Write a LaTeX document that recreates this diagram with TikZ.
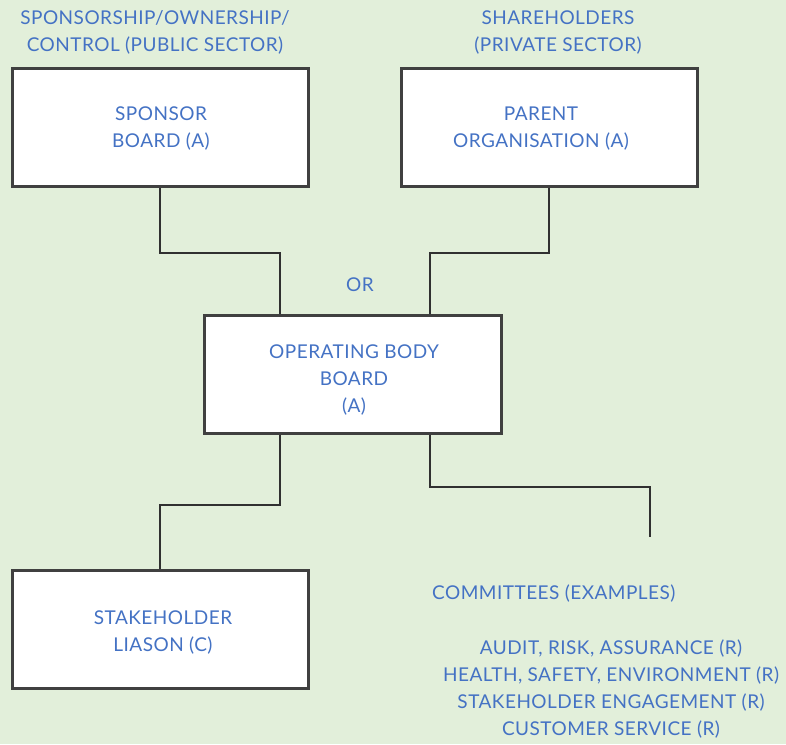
\documentclass[tikz,border=0pt]{standalone}
\usepackage{fontspec}
\setmainfont{Lato}[LetterSpace=2.5]
\definecolor{bg}{HTML}{E2EFDA}
\definecolor{txt}{HTML}{4472C4}
\definecolor{edge}{HTML}{404040}
\definecolor{conn}{HTML}{303030}
\begin{document}
\begin{tikzpicture}[x=1pt,y=-1pt,
  lbl/.style={text=txt,font=\fontsize{19}{27}\selectfont,align=center,inner sep=0pt,yshift=-1.5pt},
  boxnode/.style={draw=edge,line width=3pt,fill=white,minimum width=296pt,minimum height=118pt,inner sep=0pt},
  link/.style={draw=conn,line width=2pt}]
\fill[bg] (0,0) rectangle (786,744);
\useasboundingbox (0,0) rectangle (786,744);
% boxes
\node[boxnode] (sponsor) at (160,127) {};
\node[boxnode] (parent) at (549,127) {};
\node[boxnode,minimum width=297pt] (op) at (352.5,374) {};
\node[boxnode] (stake) at (160,629) {};
\coordinate (commend) at (650,537);
% connectors
\draw[link] (sponsor.south) -- ++(0,65) -| ([xshift=77pt]op.north west);
\draw[link] (parent.south) -- ++(0,65) -| ([xshift=-73pt]op.north east);
\draw[link] ([xshift=77pt]op.south west) -- ++(0,70) -| (stake.north);
\draw[link] ([xshift=-73pt]op.south east) -- ++(0,52) -| (commend);
% texts
\node[lbl] (t1) at (155,31) {SPONSORSHIP/OWNERSHIP/\\CONTROL (PUBLIC SECTOR)};
\node[lbl] (t2) at (558,31) {SHAREHOLDERS\\(PRIVATE SECTOR)};
\node[lbl] (t3) at (161,127) {SPONSOR\\BOARD (A)};
\node[lbl] (t4) at (541,127) {PARENT\\ORGANISATION (A)};
\node[lbl] (t5) at (360,283) {OR};
\node[lbl] (t6) at (354,379) {OPERATING BODY\\BOARD\\(A)};
\node[lbl] (t7) at (163,631) {STAKEHOLDER\\LIASON (C)};
\node[lbl,anchor=west] (t8) at (432,592) {COMMITTEES (EXAMPLES)};
\node[lbl] (t9) at (611,688) {AUDIT, RISK, ASSURANCE (R)\\HEALTH, SAFETY, ENVIRONMENT (R)\\STAKEHOLDER ENGAGEMENT (R)\\CUSTOMER SERVICE (R)};
\end{tikzpicture}
\end{document}
